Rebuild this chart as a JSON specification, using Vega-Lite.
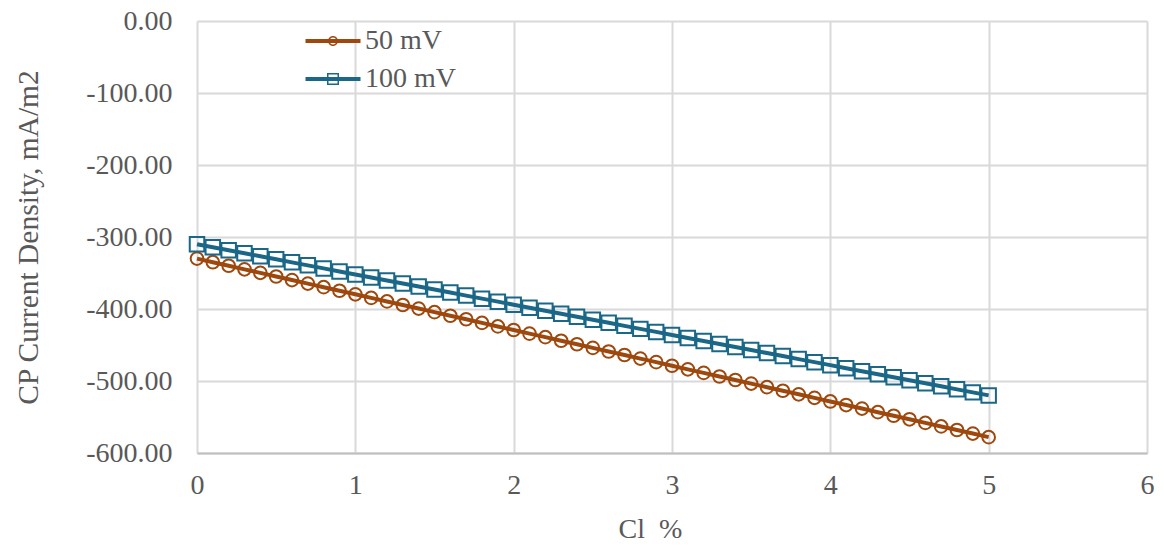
{
  "$schema": "https://vega.github.io/schema/vega-lite/v6.json",
  "width": 950,
  "height": 432,
  "autosize": "none",
  "padding": {"left": 197, "top": 21, "right": 16, "bottom": 94},
  "background": "white",
  "config": {
    "view": {"stroke": null},
    "font": "Liberation Serif",
    "axis": {
      "labelFont": "Liberation Serif",
      "titleFont": "Liberation Serif",
      "labelFontSize": 28,
      "titleFontSize": 28,
      "labelColor": "#595959",
      "titleColor": "#595959",
      "titleFontWeight": "normal",
      "gridColor": "#d9d9d9",
      "gridWidth": 2,
      "ticks": false,
      "labelFlush": false,
      "labelExpr": "replace(datum.label, '−', '-')"
    },
    "legend": {
      "labelFont": "Liberation Serif",
      "labelFontSize": 28,
      "labelColor": "#595959"
    }
  },
  "data": {
    "values": [
      {"cl": 0.0, "series": "50 mV", "cd": -330.0},
      {"cl": 0.1, "series": "50 mV", "cd": -335.0},
      {"cl": 0.2, "series": "50 mV", "cd": -339.9},
      {"cl": 0.3, "series": "50 mV", "cd": -344.9},
      {"cl": 0.4, "series": "50 mV", "cd": -349.8},
      {"cl": 0.5, "series": "50 mV", "cd": -354.8},
      {"cl": 0.6, "series": "50 mV", "cd": -359.8},
      {"cl": 0.7, "series": "50 mV", "cd": -364.7},
      {"cl": 0.8, "series": "50 mV", "cd": -369.7},
      {"cl": 0.9, "series": "50 mV", "cd": -374.6},
      {"cl": 1.0, "series": "50 mV", "cd": -379.6},
      {"cl": 1.1, "series": "50 mV", "cd": -384.6},
      {"cl": 1.2, "series": "50 mV", "cd": -389.5},
      {"cl": 1.3, "series": "50 mV", "cd": -394.5},
      {"cl": 1.4, "series": "50 mV", "cd": -399.4},
      {"cl": 1.5, "series": "50 mV", "cd": -404.4},
      {"cl": 1.6, "series": "50 mV", "cd": -409.4},
      {"cl": 1.7, "series": "50 mV", "cd": -414.3},
      {"cl": 1.8, "series": "50 mV", "cd": -419.3},
      {"cl": 1.9, "series": "50 mV", "cd": -424.2},
      {"cl": 2.0, "series": "50 mV", "cd": -429.2},
      {"cl": 2.1, "series": "50 mV", "cd": -434.2},
      {"cl": 2.2, "series": "50 mV", "cd": -439.1},
      {"cl": 2.3, "series": "50 mV", "cd": -444.1},
      {"cl": 2.4, "series": "50 mV", "cd": -449.0},
      {"cl": 2.5, "series": "50 mV", "cd": -454.0},
      {"cl": 2.6, "series": "50 mV", "cd": -459.0},
      {"cl": 2.7, "series": "50 mV", "cd": -463.9},
      {"cl": 2.8, "series": "50 mV", "cd": -468.9},
      {"cl": 2.9, "series": "50 mV", "cd": -473.8},
      {"cl": 3.0, "series": "50 mV", "cd": -478.8},
      {"cl": 3.1, "series": "50 mV", "cd": -483.8},
      {"cl": 3.2, "series": "50 mV", "cd": -488.7},
      {"cl": 3.3, "series": "50 mV", "cd": -493.7},
      {"cl": 3.4, "series": "50 mV", "cd": -498.6},
      {"cl": 3.5, "series": "50 mV", "cd": -503.6},
      {"cl": 3.6, "series": "50 mV", "cd": -508.6},
      {"cl": 3.7, "series": "50 mV", "cd": -513.5},
      {"cl": 3.8, "series": "50 mV", "cd": -518.5},
      {"cl": 3.9, "series": "50 mV", "cd": -523.4},
      {"cl": 4.0, "series": "50 mV", "cd": -528.4},
      {"cl": 4.1, "series": "50 mV", "cd": -533.4},
      {"cl": 4.2, "series": "50 mV", "cd": -538.3},
      {"cl": 4.3, "series": "50 mV", "cd": -543.3},
      {"cl": 4.4, "series": "50 mV", "cd": -548.2},
      {"cl": 4.5, "series": "50 mV", "cd": -553.2},
      {"cl": 4.6, "series": "50 mV", "cd": -558.2},
      {"cl": 4.7, "series": "50 mV", "cd": -563.1},
      {"cl": 4.8, "series": "50 mV", "cd": -568.1},
      {"cl": 4.9, "series": "50 mV", "cd": -573.0},
      {"cl": 5.0, "series": "50 mV", "cd": -578.0},
      {"cl": 0.0, "series": "100 mV", "cd": -310.0},
      {"cl": 0.1, "series": "100 mV", "cd": -314.2},
      {"cl": 0.2, "series": "100 mV", "cd": -318.4},
      {"cl": 0.3, "series": "100 mV", "cd": -322.6},
      {"cl": 0.4, "series": "100 mV", "cd": -326.8},
      {"cl": 0.5, "series": "100 mV", "cd": -331.0},
      {"cl": 0.6, "series": "100 mV", "cd": -335.2},
      {"cl": 0.7, "series": "100 mV", "cd": -339.4},
      {"cl": 0.8, "series": "100 mV", "cd": -343.6},
      {"cl": 0.9, "series": "100 mV", "cd": -347.8},
      {"cl": 1.0, "series": "100 mV", "cd": -352.0},
      {"cl": 1.1, "series": "100 mV", "cd": -356.2},
      {"cl": 1.2, "series": "100 mV", "cd": -360.4},
      {"cl": 1.3, "series": "100 mV", "cd": -364.6},
      {"cl": 1.4, "series": "100 mV", "cd": -368.8},
      {"cl": 1.5, "series": "100 mV", "cd": -373.0},
      {"cl": 1.6, "series": "100 mV", "cd": -377.2},
      {"cl": 1.7, "series": "100 mV", "cd": -381.4},
      {"cl": 1.8, "series": "100 mV", "cd": -385.6},
      {"cl": 1.9, "series": "100 mV", "cd": -389.8},
      {"cl": 2.0, "series": "100 mV", "cd": -394.0},
      {"cl": 2.1, "series": "100 mV", "cd": -398.2},
      {"cl": 2.2, "series": "100 mV", "cd": -402.4},
      {"cl": 2.3, "series": "100 mV", "cd": -406.6},
      {"cl": 2.4, "series": "100 mV", "cd": -410.8},
      {"cl": 2.5, "series": "100 mV", "cd": -415.0},
      {"cl": 2.6, "series": "100 mV", "cd": -419.2},
      {"cl": 2.7, "series": "100 mV", "cd": -423.4},
      {"cl": 2.8, "series": "100 mV", "cd": -427.6},
      {"cl": 2.9, "series": "100 mV", "cd": -431.8},
      {"cl": 3.0, "series": "100 mV", "cd": -436.0},
      {"cl": 3.1, "series": "100 mV", "cd": -440.2},
      {"cl": 3.2, "series": "100 mV", "cd": -444.4},
      {"cl": 3.3, "series": "100 mV", "cd": -448.6},
      {"cl": 3.4, "series": "100 mV", "cd": -452.8},
      {"cl": 3.5, "series": "100 mV", "cd": -457.0},
      {"cl": 3.6, "series": "100 mV", "cd": -461.2},
      {"cl": 3.7, "series": "100 mV", "cd": -465.4},
      {"cl": 3.8, "series": "100 mV", "cd": -469.6},
      {"cl": 3.9, "series": "100 mV", "cd": -473.8},
      {"cl": 4.0, "series": "100 mV", "cd": -478.0},
      {"cl": 4.1, "series": "100 mV", "cd": -482.2},
      {"cl": 4.2, "series": "100 mV", "cd": -486.4},
      {"cl": 4.3, "series": "100 mV", "cd": -490.6},
      {"cl": 4.4, "series": "100 mV", "cd": -494.8},
      {"cl": 4.5, "series": "100 mV", "cd": -499.0},
      {"cl": 4.6, "series": "100 mV", "cd": -503.2},
      {"cl": 4.7, "series": "100 mV", "cd": -507.4},
      {"cl": 4.8, "series": "100 mV", "cd": -511.6},
      {"cl": 4.9, "series": "100 mV", "cd": -515.8},
      {"cl": 5.0, "series": "100 mV", "cd": -520.0}
    ]
  },
  "encoding": {
    "x": {
      "field": "cl",
      "type": "quantitative",
      "title": "Cl\u00a0 %",
      "scale": {"domain": [0, 6], "nice": false},
      "axis": {
        "values": [0, 1, 2, 3, 4, 5, 6],
        "format": "d",
        "labelPadding": 18,
        "titlePadding": 16,
        "titleX": 453,
        "domainColor": "#bfbfbf",
        "domainWidth": 2
      }
    },
    "y": {
      "field": "cd",
      "type": "quantitative",
      "title": "CP Current Density, mA/m2",
      "scale": {"domain": [-600, 0], "nice": false},
      "axis": {
        "values": [-600, -500, -400, -300, -200, -100, 0],
        "format": ".2f",
        "labelPadding": 25,
        "titlePadding": 42,
        "titleFontSize": 29.5,
        "domain": false
      }
    },
    "color": {
      "field": "series",
      "type": "nominal",
      "sort": ["50 mV", "100 mV"],
      "scale": {"domain": ["50 mV", "100 mV"], "range": ["#9e480e", "#1a6788"]},
      "legend": {
        "title": null,
        "orient": "none",
        "legendX": 122,
        "legendY": 6,
        "symbolSize": 100,
        "labelOffset": 18,
        "rowPadding": 10,
        "encode": {
          "symbols": {
            "update": {
              "shape": {"signal": "datum.value === '50 mV' ? 'M-5.5,-0.38L5.5,-0.38L5.5,0.38L-5.5,0.38Z M-1,0A1,1 0 1,1 1,0A1,1 0 1,1 -1,0Z M-0.7,0A0.7,0.7 0 1,0 0.7,0A0.7,0.7 0 1,0 -0.7,0Z' : 'M-5.5,-0.38L5.5,-0.38L5.5,0.38L-5.5,0.38Z M-1.2,-1.2L1.2,-1.2L1.2,1.2L-1.2,1.2Z M-0.9,-0.9L-0.9,0.9L0.9,0.9L0.9,-0.9Z'"},
              "fill": {"signal": "scale('color', datum.value)"},
              "fillOpacity": {"value": 1},
              "strokeWidth": {"value": 0},
              "opacity": {"value": 1}
            }
          }
        }
      }
    }
  },
  "layer": [
    {
      "mark": {"type": "line", "strokeWidth": 4},
      "encoding": {"detail": {"field": "series"}}
    },
    {
      "transform": [{"filter": "datum.series === '50 mV'"}],
      "mark": {"type": "point", "shape": "circle", "size": 160, "filled": false, "strokeWidth": 2, "opacity": 1}
    },
    {
      "transform": [{"filter": "datum.series === '100 mV'"}],
      "mark": {"type": "point", "shape": "square", "size": 210, "filled": false, "strokeWidth": 2, "opacity": 1}
    }
  ]
}
